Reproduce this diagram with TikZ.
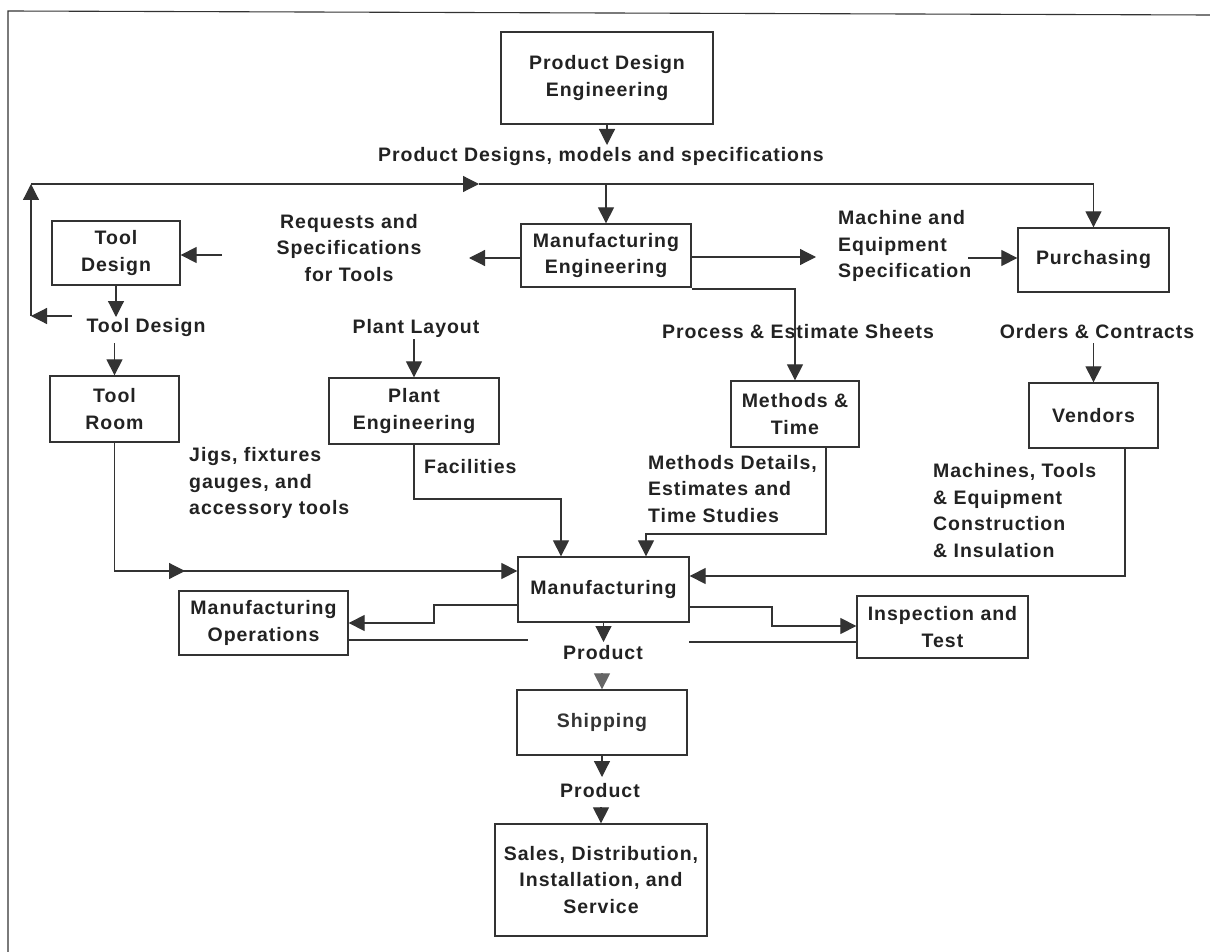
\documentclass[tikz,border=0pt]{standalone}
\usepackage{fontspec}
\setmainfont[LetterSpace=5]{Liberation Sans}
\usetikzlibrary{arrows.meta}
\definecolor{ink}{HTML}{222222}
\definecolor{rule}{HTML}{333333}
\definecolor{dim}{HTML}{666666}

\tikzset{
  every node/.style={font=\bfseries\fontsize{19.5}{26.5}\selectfont, text=ink, inner sep=0pt},
  box/.style={draw=rule, line width=1.3pt, align=center},
  lbl/.style={align=center},
  lbll/.style={align=left, anchor=west},
  flow/.style={draw=rule, line width=1.2pt},
  arr/.style={flow, -{Triangle[length=16pt,width=16pt]}},
  frame/.style={draw=rule, line width=1.1pt},
}

\begin{document}
\begin{tikzpicture}[x=1pt,y=-1pt]
\useasboundingbox (0,0) rectangle (1210,952);

% outer frame
\draw[frame] (1210,15) -- (8,11) -- (8,952);

% departments
\node[box, minimum width=212pt, minimum height=92pt] (pde) at (607,78) {Product Design\\Engineering};
\node[box, minimum width=128pt, minimum height=64pt] (tooldes) at (116,253) {Tool\\Design};
\node[box, minimum width=170pt, minimum height=63pt] (mfgeng) at (606,255.5) {Manufacturing\\Engineering};
\node[box, minimum width=151pt, minimum height=64pt] (purch) at (1093.5,260) {Purchasing};
\node[box, minimum width=129pt, minimum height=66pt] (toolroom) at (114.5,409) {Tool\\Room};
\node[box, minimum width=170pt, minimum height=66pt] (planteng) at (414,411) {Plant\\Engineering};
\node[box, minimum width=128pt, minimum height=66pt] (mt) at (795,414) {Methods \&\\Time};
\node[box, minimum width=129pt, minimum height=65pt] (vendors) at (1093.5,415.5) {Vendors};
\node[box, minimum width=171pt, minimum height=65pt] (mfg) at (603.5,589.5) {Manufacturing};
\node[box, minimum width=169pt, minimum height=64pt] (mfgops) at (263.5,623) {Manufacturing\\Operations};
\node[box, minimum width=171pt, minimum height=62pt] (insp) at (942.5,627) {Inspection and\\Test};
\node[box, minimum width=170pt, minimum height=65pt, text=rule] (ship) at (602,722.5) {Shipping};
\node[box, minimum width=212pt, minimum height=112pt] (sales) at (601,880) {Sales, Distribution,\\Installation, and\\Service};

% flow labels
\node[lbl] (lblpd) at (601,157) {Product Designs, models and specifications};
\node[lbl] (lblreq) at (349,248) {Requests and\\Specifications\\for Tools};
\node[lbll] (lblmach) at (838,246) {Machine and\\Equipment\\Specification};
\node[lbl] (lbltd) at (146,327) {Tool Design};
\node[lbl] (lblpl) at (416,328) {Plant Layout};
\node[lbl] (lblpe) at (798,332) {Process \& Estimate Sheets};
\node[lbl] (lbloc) at (1097,332) {Orders \& Contracts};
\node[lbll] (lbljigs) at (189,483) {Jigs, fixtures\\gauges, and\\accessory tools};
\node[lbll] (lblfac) at (424,467) {Facilities};
\node[lbll] (lblmd) at (648,489) {Methods Details,\\Estimates and\\Time Studies};
\node[lbll] (lblmte) at (933,510.5) {Machines, Tools\\\& Equipment\\Construction\\\& Insulation};
\node[lbl] (lblprod1) at (603,653) {Product};
\node[lbl] (lblprod2) at (600,791) {Product};

% free ends of connectors
\coordinate (tdfrom) at (72,316);
\coordinate (busL) at (31,316);
\coordinate (busTL) at (31,184);
\coordinate (busMid) at (479,184);
\coordinate (reqL) at (222,255);
\coordinate (reqR) at (469,258);
\coordinate (machL) at (816,257);
\coordinate (machR) at (968,258);
\coordinate (trMid) at (185,571);
\coordinate (opsEnd) at (528,640);
\coordinate (inspStart) at (689,642);

% product design output
\draw[arr] (pde.south) -- (pde.south |- 0,145);

% distribution line to engineering, purchasing and tool design
\draw[arr] (tdfrom) -- (busL);
\draw[arr] (busL) -- (busTL);
\draw[arr] (busTL) -- (busMid);
\draw[flow] (busMid) -- (purch.north |- busMid);
\draw[arr] (purch.north |- busMid) -- (purch.north);
\draw[arr] (mfgeng.north |- busMid) -- (mfgeng.north);

% tool design chain
\draw[arr] (reqL) -- (tooldes.east |- reqL);
\draw[arr] (tooldes.south) -- (tooldes.south |- 0,317);
\draw[arr] (toolroom.north |- 0,343) -- (toolroom.north);

% manufacturing engineering outputs
\draw[arr] (mfgeng.west |- reqR) -- (reqR);
\draw[arr] (mfgeng.east |- machL) -- (machL);
\draw[arr] (machR) -- (purch.west |- machR);
\draw[arr] (mfgeng.east |- 0,289) -| (mt.north);
\draw[arr] (purch.south |- 0,343) -- (vendors.north);
\draw[arr] (planteng.north |- 0,339) -- (planteng.north);

% inputs to manufacturing
\draw[flow] (toolroom.south) |- (trMid);
\draw[arr] (toolroom.south |- trMid) -- (trMid);
\draw[arr] (trMid) -- (mfg.west |- trMid);
\draw[arr] (planteng.south) |- (561,499) -- (mfg.north -| 561,0);
\draw[arr] (mt.south -| 826,0) |- (646,534) -- (mfg.north -| 646,0);
\draw[arr] (vendors.south -| 1125,0) |- (mfg.east |- 0,576);

% manufacturing outputs
\draw[arr] (mfg.west |- 0,605) -| (434,623) -- (mfgops.east |- 0,623);
\draw[arr] (mfg.east |- 0,607) -| (772,626) -- (insp.west |- 0,626);
\draw[flow] (mfgops.east |- opsEnd) -- (opsEnd);
\draw[flow] (inspStart) -- (insp.west |- inspStart);
\draw[arr] (mfg.south) -- (mfg.south |- 0,642);
\draw[arr, draw=dim] (ship.north |- 0,673) -- (ship.north);
\draw[arr] (ship.south) -- (ship.south |- 0,777);
\draw[arr] (sales.north |- 0,807) -- (sales.north);
\end{tikzpicture}
\end{document}
